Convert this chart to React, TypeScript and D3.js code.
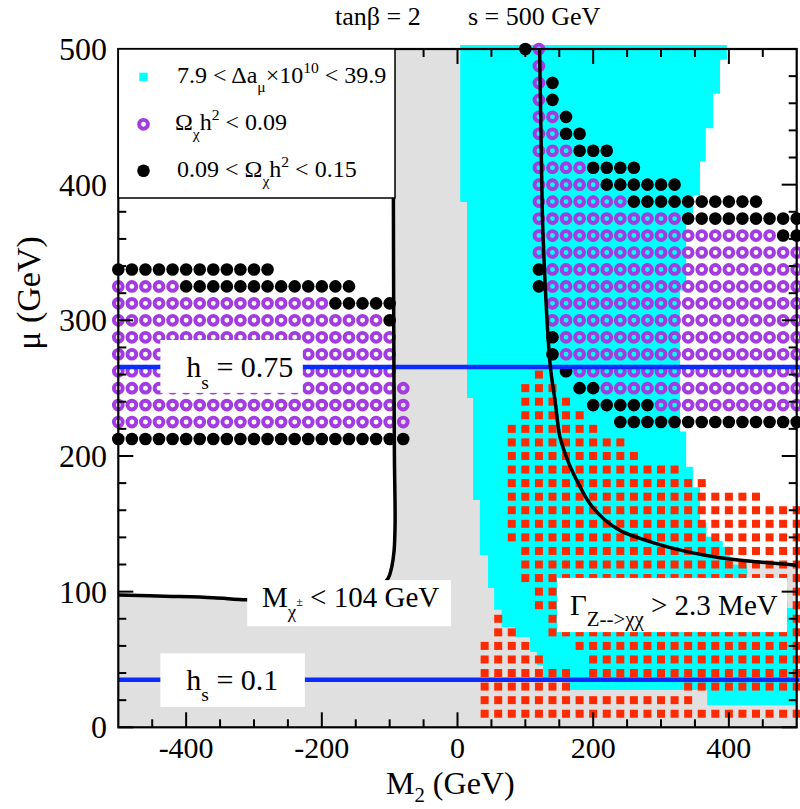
import React from "react";
import * as d3 from "d3";

// ---------- data ----------
const M2_DOMAIN: [number, number] = [-500, 500];
const MU_DOMAIN: [number, number] = [0, 500];
const xMajorTicks = [-400, -200, 0, 200, 400];
const xMinorTicks = [-450, -350, -300, -250, -150, -100, -50, 50, 100, 150, 250, 300, 350, 450];
const yMajorTicks = [0, 100, 200, 300, 400, 500];
const yMinorTicks = [20, 40, 60, 80, 120, 140, 160, 180, 220, 240, 260, 280, 320, 340, 360, 380, 420, 440, 460, 480];
const xTickLabels = ["-400", "-200", "0", "200", "400"];
const yTickLabels = ["0", "100", "200", "300", "400", "500"];

const GRID_STEP_M2 = 20;

// Omega h^2 < 0.09 (purple rings): [mu, M2 from, M2 to]
const ringRows: [number, number, number][] = [
  [325, -500, -420], [312.5, -500, -200], [300, -500, -120], [287.5, -500, -100], [275, -500, -100],
  [262.5, -500, -100], [250, -500, -80], [237.5, -500, -80], [225, -500, -80],
  [500, 120, 120], [487.5, 120, 120], [475, 120, 120], [462.5, 120, 120], [450, 120, 140], [437.5, 120, 140],
  [425, 120, 160], [412.5, 120, 180], [400, 120, 200], [387.5, 120, 240], [375, 120, 320], [362.5, 120, 460],
  [350, 120, 500], [337.5, 140, 500], [325, 140, 500], [312.5, 140, 500], [300, 140, 500], [287.5, 160, 500],
  [275, 160, 500], [262.5, 180, 500], [250, 220, 500], [237.5, 300, 500],
];

// 0.09 < Omega h^2 < 0.15 (black dots)
const dotRows: [number, number, number][] = [
  [337.5, -500, -280], [325, -400, -160], [312.5, -180, -100], [300, -100, -100], [212.5, -500, -80],
  [500, 100, 100], [475, 140, 140], [462.5, 140, 140], [450, 160, 160], [437.5, 160, 180], [425, 180, 220],
  [412.5, 200, 260], [400, 220, 320], [387.5, 260, 440], [375, 340, 500], [362.5, 480, 500],
  [337.5, 120, 120], [325, 120, 120], [287.5, 140, 140], [275, 140, 140], [262.5, 160, 160],
  [250, 180, 200], [237.5, 200, 280], [225, 240, 500],
];

// red squares
const squareRows: [number, number, number][] = [
  [260, 120, 120], [250, 100, 140], [240, 100, 160], [230, 100, 180], [220, 80, 200], [210, 80, 240],
  [200, 80, 260], [190, 80, 320], [180, 80, 360], [170, 80, 440], [160, 80, 500], [150, 80, 500],
  [140, 80, 500], [130, 100, 500], [120, 100, 500], [110, 100, 500], [100, 120, 500], [90, 120, 500],
  [80, 60, 60], [80, 140, 500], [70, 60, 80], [70, 140, 500], [60, 40, 100], [60, 180, 500],
  [50, 40, 120], [50, 200, 500], [40, 40, 160], [40, 200, 500], [30, 40, 160], [30, 340, 500],
  [20, 40, 340], [10, 40, 500],
];

// 7.9 < Δaμ×10^10 < 39.9 region (cyan) outline [M2, mu]
const cyanOutline: [number, number][] = [
  [4, 503], [397, 503], [397, 492], [387, 492], [387, 467], [377, 467], [377, 441.5], [366, 441.5],
  [366, 417], [357.5, 417], [357.5, 392], [347, 392], [347, 379], [337, 379], [337, 322], [328, 322],
  [328, 218], [337, 218], [337, 192], [347, 192], [347, 177], [357.5, 177], [357.5, 151], [367, 151],
  [367, 140.5], [377, 140.5], [377, 137.5], [391, 137.5], [391, 133], [402, 133], [402, 120], [427, 120],
  [427, 105], [486, 88], [500, 88], [500, 16.4], [368, 16.4], [368, 27.5], [166, 27.5], [166, 36.3],
  [126, 36.3], [126, 46], [117, 46], [117, 55.5], [107, 55.5], [107, 66.6], [85, 66.6], [85, 74],
  [65, 74], [65, 86.6], [54, 86.6], [54, 102.7], [45, 102.7], [45, 127], [33, 127], [33, 167.5],
  [23, 167.5], [23, 242.7], [14, 242.7], [14, 387.2], [4, 387.2],
];

// M_chargino = 104 GeV contour, positive M2 branch
const charginoRight: [number, number][] = [
  [121, 500], [123, 440], [125, 380], [128, 340], [132, 300], [137, 265], [144, 240], [151, 214],
  [160, 200], [168, 190], [181, 177], [195, 165], [217, 153], [240, 145], [289, 136], [338, 129.5],
  [387, 125], [440, 122], [500, 119.5],
];
// negative M2 branch
const charginoLeft: [number, number][] = [
  [-94.6, 500], [-94.5, 390], [-94, 300], [-93, 200], [-92, 150], [-93.5, 130], [-97, 118],
  [-102, 110], [-115, 103], [-140, 98], [-200, 95], [-250, 94], [-310, 94], [-360, 95.5],
  [-420, 96.5], [-500, 97.5],
];

const hsLines = [
  { mu: 265.5, label: "0.75", box: [-438, -228, 246.5, 285.5] },
  { mu: 35, label: "0.1", box: [-438, -225, 15, 54.5] },
];

// ---------- styles ----------
const FONT = "'Liberation Serif', 'Times New Roman', Times, serif";
const CYAN = "#00ffff";
const GREY = "#e0e0e0";
const RED = "#ff2a00";
const PURPLE = "#a23be0";
const BLUE = "#0a2cff";

const L = 118.3, R = 796.7, T = 49, B = 727.3;

type Seg = { t: string; k?: "sub" | "sup" | "sup2"; s?: number; o?: number };
function Rich(props: { x: number; y: number; size: number; segs: Seg[]; anchor?: string; transform?: string }) {
  const { x, y, size, segs, anchor, transform } = props;
  let prev = 0;
  return (
    <text x={x} y={y} fontSize={size} fontFamily={FONT} textAnchor={anchor || "start"} transform={transform} style={{ whiteSpace: "pre" }}>
      {segs.map((s, i) => {
        const off =
          s.o !== undefined ? size * s.o : s.k === "sub" ? size * 0.38 : s.k === "sup" ? -size * 0.42 : s.k === "sup2" ? -size * 0.05 : 0;
        const dy = off - prev;
        prev = off;
        const fs = s.s ? size * s.s : s.k ? size * 0.65 : size;
        return (
          <tspan key={i} dy={dy} fontSize={fs}>
            {s.t}
          </tspan>
        );
      })}
    </text>
  );
}

function expand(rows: [number, number, number][]) {
  const pts: [number, number][] = [];
  rows.forEach(([mu, a, b]) => {
    for (let m = a; m <= b + 1e-6; m += GRID_STEP_M2) pts.push([m, mu]);
  });
  return pts;
}

export default function App() {
  const x = d3.scaleLinear().domain(M2_DOMAIN).range([L, R]);
  const y = d3.scaleLinear().domain(MU_DOMAIN).range([B, T]);

  const poly = d3.line<[number, number]>().x((d) => x(d[0])).y((d) => y(d[1]));
  const smooth = d3.line<[number, number]>().x((d) => x(d[0])).y((d) => y(d[1])).curve(d3.curveCatmullRom);

  const greyPoly: [number, number][] = [
    [-500, 0],
    ...charginoLeft.slice().reverse(),
    ...charginoRight,
    [500, 0],
  ];

  const rings = expand(ringRows);
  const dots = expand(dotRows);
  const squares = expand(squareRows);

  return (
    <svg width={800} height={809} style={{ position: "absolute", left: 0, top: 0, background: "#fff" }}>
      <rect x={0} y={0} width={800} height={809} fill="#fff" />
      {/* regions */}
      <path d={poly(greyPoly) + "Z"} fill={GREY} />
      <path d={poly(cyanOutline) + "Z"} fill={CYAN} />
      {/* red squares */}
      {squares.map(([m, mu], i) => (
        <rect key={"s" + i} x={x(m) - 4} y={y(mu) - 4} width={8} height={8} fill={RED} />
      ))}
      {/* rings */}
      {rings.map(([m, mu], i) => (
        <circle key={"r" + i} cx={x(m)} cy={y(mu)} r={4.4} fill="none" stroke={PURPLE} strokeWidth={3.9} />
      ))}
      {/* dots */}
      {dots.map(([m, mu], i) => (
        <circle key={"d" + i} cx={x(m)} cy={y(mu)} r={6.3} fill="#000" />
      ))}
      {/* hs lines */}
      {hsLines.map((h, i) => (
        <line key={"h" + i} x1={L} x2={R + 3} y1={y(h.mu)} y2={y(h.mu)} stroke={BLUE} strokeWidth={4.5} />
      ))}
      {/* chargino contours */}
      <path d={smooth(charginoRight) || ""} fill="none" stroke="#000" strokeWidth={3.5} />
      <path d={smooth(charginoLeft) || ""} fill="none" stroke="#000" strokeWidth={3.5} />

      {/* label boxes */}
      {hsLines.map((h, i) => {
        const [a, b, c, d] = h.box;
        return (
          <g key={"hb" + i}>
            <rect x={x(a)} y={y(d)} width={x(b) - x(a)} height={y(c) - y(d)} fill="#fff" />
            <Rich x={x(a) + 26} y={y(h.mu) + 10} size={30} segs={[{ t: "h" }, { t: "s", k: "sub" }, { t: " = " + h.label }]} />
          </g>
        );
      })}
      <rect x={x(-310)} y={y(108.5)} width={x(-9.6) - x(-310)} height={y(74.5) - y(108.5)} fill="#fff" />
      <Rich x={262} y={607} size={29} segs={[{ t: "M" }, { t: "χ", k: "sub" }, { t: "±", k: "sup2", s: 0.42 }, { t: " < 104 GeV" }]} />
      <rect x={x(146.7)} y={y(110.1)} width={x(485.7) - x(146.7)} height={y(70.2) - y(110.1)} fill="#fff" />
      <Rich x={570} y={615} size={29} segs={[{ t: "Γ" }, { t: "Z-->χχ", k: "sub", s: 0.72 }, { t: " > 2.3 MeV" }]} />

      {/* frame & ticks */}
      <rect x={L} y={T} width={R - L} height={B - T} fill="none" stroke="#000" strokeWidth={2.2} />
      {xMajorTicks.map((v) => (
        <g key={"xM" + v}>
          <line x1={x(v)} x2={x(v)} y1={B} y2={B - 15} stroke="#000" strokeWidth={2} />
          <line x1={x(v)} x2={x(v)} y1={T} y2={T + 15} stroke="#000" strokeWidth={2} />
        </g>
      ))}
      {xMinorTicks.map((v) => (
        <g key={"xm" + v}>
          <line x1={x(v)} x2={x(v)} y1={B} y2={B - 8} stroke="#000" strokeWidth={2} />
          <line x1={x(v)} x2={x(v)} y1={T} y2={T + 8} stroke="#000" strokeWidth={2} />
        </g>
      ))}
      {yMajorTicks.map((v) => (
        <g key={"yM" + v}>
          <line x1={L} x2={L + 15} y1={y(v)} y2={y(v)} stroke="#000" strokeWidth={2} />
          <line x1={R} x2={R - 15} y1={y(v)} y2={y(v)} stroke="#000" strokeWidth={2} />
        </g>
      ))}
      {yMinorTicks.map((v) => (
        <g key={"ym" + v}>
          <line x1={L} x2={L + 8} y1={y(v)} y2={y(v)} stroke="#000" strokeWidth={2} />
          <line x1={R} x2={R - 8} y1={y(v)} y2={y(v)} stroke="#000" strokeWidth={2} />
        </g>
      ))}
      {xMajorTicks.map((v, i) => (
        <text key={"xl" + v} x={x(v)} y={758} fontSize={30} fontFamily={FONT} textAnchor="middle">
          {xTickLabels[i]}
        </text>
      ))}
      {yMajorTicks.map((v, i) => (
        <text key={"yl" + v} x={107} y={y(v) + 11} fontSize={32} fontFamily={FONT} textAnchor="end">
          {yTickLabels[i]}
        </text>
      ))}
      {/* axis titles */}
      <Rich x={386} y={794} size={32} segs={[{ t: "M" }, { t: "2", k: "sub", o: 0.25 }, { t: " (GeV)" }]} />
      <Rich x={40} y={293} size={34} anchor="middle" transform="rotate(-90 40 293)" segs={[{ t: "μ (GeV)" }]} />
      {/* title */}
      <text x={335} y={25} fontSize={26} fontFamily={FONT}>tanβ = 2</text>
      <text x={468} y={25} fontSize={26} fontFamily={FONT}>s = 500 GeV</text>

      {/* legend */}
      <rect x={L} y={T} width={395 - L} height={198 - T} fill="#fff" stroke="#000" strokeWidth={1.5} />
      <rect x={139.3} y={72.7} width={8.4} height={8.4} fill={CYAN} />
      <Rich x={177} y={83} size={24} segs={[{ t: "7.9 < Δa" }, { t: "μ", k: "sub" }, { t: "×10" }, { t: "10", k: "sup" }, { t: " < 39.9" }]} />
      <circle cx={143.5} cy={124.3} r={4.4} fill="none" stroke={PURPLE} strokeWidth={3.9} />
      <Rich x={175} y={130} size={24} segs={[{ t: "Ω" }, { t: "χ", k: "sub" }, { t: "h" }, { t: "2", k: "sup" }, { t: " < 0.09" }]} />
      <circle cx={143.5} cy={170.7} r={6.3} fill="#000" />
      <Rich x={177} y={177} size={24} segs={[{ t: "0.09 < Ω" }, { t: "χ", k: "sub" }, { t: "h" }, { t: "2", k: "sup" }, { t: " < 0.15" }]} />
    </svg>
  );
}
